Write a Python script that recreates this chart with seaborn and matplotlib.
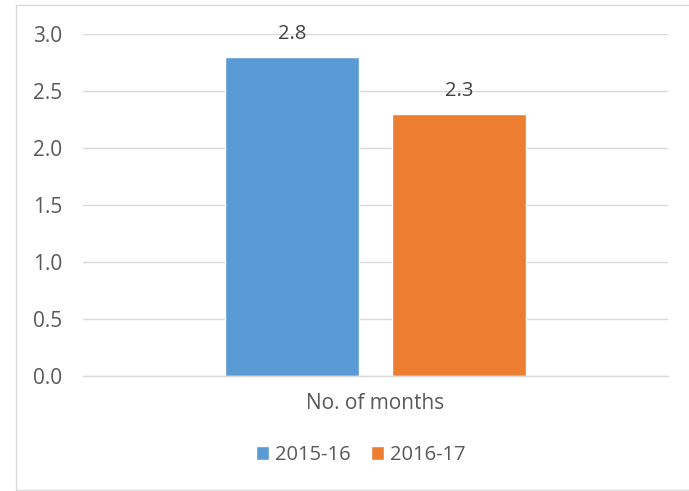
import matplotlib
matplotlib.use("Agg")
import matplotlib.pyplot as plt
import seaborn as sns
import pandas as pd
from matplotlib.patches import Rectangle

categories = ["No. of months"]
years = ["2015-16", "2016-17"]
values = [2.8, 2.3]
colors = ["#5B9BD5", "#ED7D31"]
yticks = [0.0, 0.5, 1.0, 1.5, 2.0, 2.5, 3.0]

df = pd.DataFrame({
    "category": [categories[0]] * len(years),
    "year": years,
    "value": values,
})

sns.set_theme(style="white")
plt.rcParams["font.family"] = ["Open Sans", "DejaVu Sans"]

W, H = 689, 491
fig = plt.figure(figsize=(W / 100, H / 100), dpi=100)
ax = fig.add_axes([83 / W, 1 - 376 / H, (668 - 83) / W, (376 - 34) / H])

sns.barplot(data=df, x="category", y="value", hue="year", palette=colors,
            width=0.57, gap=0.2, ax=ax, legend=True, saturation=1)

ax.set_xlim(-0.5, 0.5)
ax.set_ylim(0, 3.0)
ax.set_yticks(yticks)
ax.set_yticklabels([f"{v:.1f}" for v in yticks])
ax.grid(axis="y", color="#d9d9d9", linewidth=1)
ax.set_axisbelow(True)
for s in ["left", "right", "top"]:
    ax.spines[s].set_visible(False)
ax.spines["bottom"].set_color("#d9d9d9")
ax.spines["bottom"].set_linewidth(1)
ax.tick_params(axis="both", length=0, labelsize=15, labelcolor="#595959")
ax.tick_params(axis="y", pad=15)
ax.tick_params(axis="x", pad=12)
ax.set_xlabel("")
ax.set_ylabel("")

for cont in ax.containers:
    ax.bar_label(cont, fmt="%.1f", padding=9, fontsize=14.5, color="#404040")

leg = ax.get_legend()
handles, labels = ax.get_legend_handles_labels()
leg.remove()
fig.legend(handles, labels, loc="center", bbox_to_anchor=(360.5 / W, 1 - 455 / H),
           ncol=2, frameon=False, fontsize=14.5, handlelength=0.65, handleheight=0.65,
           handletextpad=0.3, columnspacing=1.0, labelcolor="#595959")

# chart border
fig.patches.append(Rectangle((16 / W, 1 - 490 / H), (720 - 16) / W, (490 - 5) / H,
                             transform=fig.transFigure, fill=False,
                             edgecolor="#d9d9d9", linewidth=1))

fig.savefig("out.png", dpi=100)
